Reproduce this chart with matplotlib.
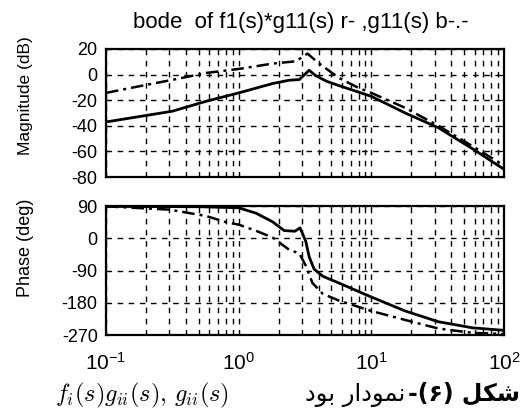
import numpy as np
import matplotlib
matplotlib.use("Agg")
import matplotlib.pyplot as plt
from matplotlib.ticker import LogLocator, NullFormatter

plt.rcParams['font.family'] = ['Liberation Sans', 'DejaVu Sans']
plt.rcParams['mathtext.fontset'] = 'custom'
plt.rcParams['mathtext.rm'] = 'Liberation Sans'
plt.rcParams['mathtext.it'] = 'Liberation Sans:italic'
plt.rcParams['axes.unicode_minus'] = False

# ── Data ──────────────────────────────────────────
# magnitude (dB)
w_mag_fg = [0.1, 0.316, 0.57, 1.0, 1.8, 2.4, 2.86, 3.4, 3.8, 4.6, 5.7, 10, 18, 32, 58, 100]
mag_fg   = [-37, -28.6, -20.8, -14.3, -7, -4.4, -3.9, 3.4, -0.8, -5.2, -8.6, -17, -30, -41.5, -58, -74]

w_mag_g  = [0.1, 0.18, 0.32, 0.57, 1.0, 1.8, 2.7, 3.3, 4.0, 5.7, 8, 10, 18, 32, 58, 100]
mag_g    = [-14.3, -9, -4, 1.3, 4.4, 8.6, 10.4, 16.4, 9, -2.6, -10.4, -14.3, -26, -40, -56, -71]

# phase (deg)
w_ph_fg  = [0.1, 0.5, 1.0, 1.35, 1.8, 2.2, 2.65, 2.9, 3.2, 3.4, 3.7, 4.3, 5.7, 10, 18, 32, 58, 100]
ph_fg    = [89, 88, 85, 70, 46, 21.5, 19.6, 29, -8, -52, -86, -106, -125, -164, -203, -233, -250, -257]

w_ph_g   = [0.1, 0.3, 0.57, 0.8, 1.0, 1.35, 1.8, 2.4, 2.86, 3.2, 3.6, 4.3, 5.7, 10, 18, 32, 58, 100]
ph_g     = [89, 80, 62, 45, 38, 21, 2, -32, -42, -76, -125, -155, -174, -203, -228, -252, -264, -267]

mag_ticks   = [-80, -60, -40, -20, 0, 20]
phase_ticks = [-270, -180, -90, 0, 90]

title_txt    = 'bode  of f1(s)*g11(s) r- ,g11(s) b-.-'
caption_math = r'$f_i(s)g_{ii}(s),\, g_{ii}(s)$'
# Persian caption, pre-shaped and in visual order
caption_fa_reg  = '\ufea9\ufeee\ufe91 \ufead\ufe8d\ufea9\ufeee\ufee4\ufee7'
caption_fa_bold = '-(\u06f6) \ufede\ufb91\ufeb7'

# ── Figure ────────────────────────────────────────
W, H = 522, 409
fig = plt.figure(figsize=(W / 100, H / 100), dpi=100)
ax1 = fig.add_axes([0.2031, 0.5672, 0.7625, 0.3130])
ax2 = fig.add_axes([0.2031, 0.1809, 0.7625, 0.3154])

dashdot = (0, (5, 2, 1.2, 2))
ax1.semilogx(w_mag_fg, mag_fg, color='black', lw=2.0)
ax1.semilogx(w_mag_g, mag_g, color='black', lw=1.8, linestyle=dashdot)
ax2.semilogx(w_ph_fg, ph_fg, color='black', lw=2.0)
ax2.semilogx(w_ph_g, ph_g, color='black', lw=1.8, linestyle=dashdot)

for ax in (ax1, ax2):
    ax.set_xlim(0.1, 100)
    ax.xaxis.set_major_locator(LogLocator(base=10, numticks=10))
    ax.xaxis.set_minor_locator(LogLocator(base=10, subs=np.arange(2, 10), numticks=20))
    ax.xaxis.set_minor_formatter(NullFormatter())
    ax.grid(True, which='both', axis='x', color='black', lw=1.0, linestyle=(0, (4, 4)))
    ax.grid(True, which='major', axis='y', color='black', lw=1.0, linestyle=(0, (4, 4)))
    ax.tick_params(which='both', direction='in', top=True, right=True, length=3,
                   labelsize=13, pad=6)
    for sp in ax.spines.values():
        sp.set_linewidth(1.6)

ax1.set_ylim(-80, 20)
ax1.set_yticks(mag_ticks)
ax1.tick_params(labelbottom=False)

ax2.set_ylim(-270, 90)
ax2.set_yticks(phase_ticks)
ax2.tick_params(axis='x', which='major', pad=12, labelsize=15)

fig.text(0.577, 0.946, title_txt, ha='center', va='center', fontsize=16)
fig.text(0.048, 0.765, 'Magnitude (dB)', rotation=90, ha='center', va='center', fontsize=12.5)
fig.text(0.048, 0.394, 'Phase (deg)', rotation=90, ha='center', va='center', fontsize=13)

base_y = 1 - 401 / H
fig.text(55 / W, base_y, caption_math, ha='left', va='baseline',
         fontsize=17.5, math_fontfamily='cm')
t_bold = fig.text(520 / W, base_y, caption_fa_bold, ha='right', va='baseline',
                  fontsize=17, fontweight='bold', family=['DejaVu Sans'])
fig.canvas.draw()
bb = t_bold.get_window_extent()
fig.text((bb.x0 - 3) / W, base_y, caption_fa_reg, ha='right', va='baseline',
         fontsize=17.5, family=['DejaVu Sans'])

fig.savefig('out.png', dpi=100)
